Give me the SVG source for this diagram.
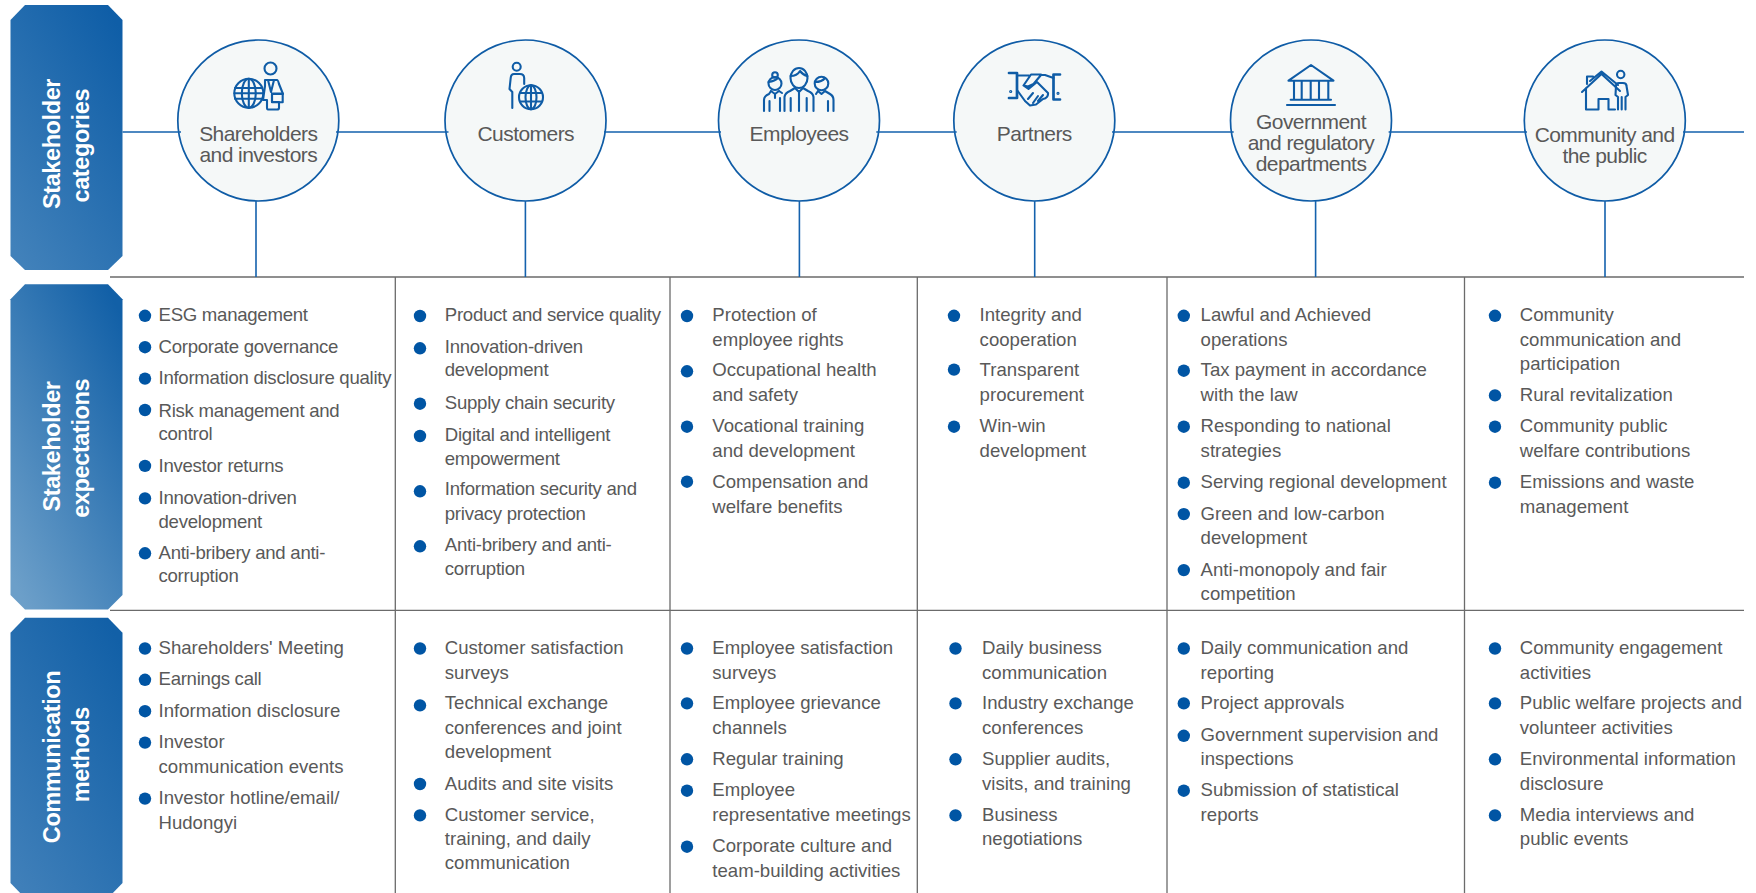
<svg xmlns="http://www.w3.org/2000/svg" width="1756" height="893" viewBox="0 0 1756 893">
<style>
text{font-family:"Liberation Sans",Arial,sans-serif}
.t{font-size:18.6px;fill:#595959}
.s{letter-spacing:-.27px}
.c{font-size:21px;fill:#595959;text-anchor:middle;letter-spacing:-.55px}
.h{font-size:23.5px;font-weight:700;fill:#fff;text-anchor:middle;letter-spacing:-.4px}
.n{fill:#f5f8f8;stroke:#0f5ca6;stroke-width:1.7}
.i{fill:none;stroke:#0f5ca6;stroke-width:2.1;stroke-linejoin:round;stroke-linecap:round}
.k{stroke-width:2.7}
.d{stroke-width:1.2}
.f{fill:#f5f8f8}
.b{fill:#0055a4}
.bl{stroke:#1562ad;stroke-width:1.6;fill:none}
.gr{stroke:#6b6b6b;stroke-width:1.3;fill:none}
</style>
<defs>
<linearGradient id="g1" x1=".85" y1="0" x2=".15" y2="1"><stop offset="0" stop-color="#0f5ea7"/><stop offset="1" stop-color="#4181ba"/></linearGradient>
<linearGradient id="g2" x1=".85" y1="0" x2=".15" y2="1"><stop offset="0" stop-color="#1260a7"/><stop offset="1" stop-color="#6c9fc9"/></linearGradient>
<linearGradient id="g3" x1=".85" y1="0" x2=".15" y2="1"><stop offset="0" stop-color="#1260a7"/><stop offset="1" stop-color="#3f7fb9"/></linearGradient>
</defs>
<rect width="1756" height="893" fill="#fff"/>
<g id="grid">
<path class="gr" d="M110 277H1744M110 610.3H1744M395.3 277V893M670 277V893M917.3 277V893M1167 277V893M1464.5 277V893"/>
</g>
<g id="band-categories">
<path fill="url(#g1)" d="M25 5H108L122.5 20V256L108 270H25L10.5 256V20Z"/>
<text class="h" transform="translate(60 144) rotate(-90)">Stakeholder</text>
<text class="h" transform="translate(89 145.7) rotate(-90)">categories</text>
</g>
<g id="band-expectations">
<path fill="url(#g2)" d="M25 284.3H108L122.5 299.3V595L108 609.5H25L10.5 595V299.3Z"/>
<text class="h" transform="translate(60 446.5) rotate(-90)">Stakeholder</text>
<text class="h" transform="translate(89 448.3) rotate(-90)">expectations</text>
</g>
<g id="band-methods">
<path fill="url(#g3)" d="M25 617.7H108L122.5 632.7V883L108 898H25L10.5 883V632.7Z"/>
<text class="h" transform="translate(60 757) rotate(-90)">Communication</text>
<text class="h" transform="translate(89 754.6) rotate(-90)">methods</text>
</g>
<g id="node-shareholders">
<circle class="n" cx="258.3" cy="120.5" r="80.5"/>
<circle class="i" cx="248.8" cy="93.3" r="14.5"/>
<ellipse class="i" cx="248.8" cy="93.3" rx="7" ry="14.5"/>
<path class="i" d="M248.8 79V108M235 88H262M234.5 93.3H263M235 98.7H262"/>
<path class="i f" d="M265 80H277Q278 80 279 84L283 94H272V102H279V108Q279 109.5 277 109.5H268Q267 109.5 267 107.5V100H263L265 86Z"/>
<circle class="i" cx="270.5" cy="68.5" r="6"/>
<path class="i" d="M268 80L271 92L274 80M272 93.5H282.7V102.3H272Z"/>
<text class="c" x="258.3" y="141">Shareholders</text>
<text class="c" x="258.3" y="162.3">and investors</text>
</g>
<g id="node-customers">
<circle class="n" cx="525.5" cy="120.5" r="80.5"/>
<circle class="i" cx="516.7" cy="66.7" r="4"/>
<path class="i" d="M512.3 108V92L509.5 89L510.7 78Q511 74 514 74H520Q524 74 524.2 78V84"/>
<circle class="i" cx="531" cy="97.3" r="12"/>
<ellipse class="i" cx="531" cy="97.3" rx="5.5" ry="12"/>
<path class="i" d="M531 85.3V109.3M520.5 93H541.5M520.5 101.5H541.5"/>
<text class="c" x="525.8" y="141">Customers</text>
</g>
<g id="node-employees">
<circle class="n" cx="799" cy="120.5" r="80.5"/>
<ellipse class="i" cx="799" cy="78" rx="8.5" ry="10"/>
<path class="i" d="M790.5 76Q797 76 800 71Q803 75 807.5 76M795 88L799 92L803 88M784.5 111V97Q785 93 790 91L795 88M803 88L808 91Q813 93 813.5 97V111M790.7 111V98M799 92V111M806.7 111V98"/>
<circle class="i" cx="775" cy="83.5" r="6.5"/>
<circle class="i" cx="775" cy="75" r="2.8"/>
<path class="i" d="M768.5 82Q775 81 778 78M771 91L775 94L779 91M764 111V100Q764 96 769 94L771 91M779 91L782 93M769.5 111V101M775 94V98M780 98V111"/>
<circle class="i" cx="821.5" cy="83.5" r="6.8"/>
<path class="i" d="M815 82Q822 82 825 78M818 91L821.5 94L825 91M825 91L830 94Q833.5 96 833.5 100V111M828 111V101M816 94L818 91"/>
<text class="c" x="799" y="141">Employees</text>
</g>
<g id="node-partners">
<circle class="n" cx="1034.3" cy="120.5" r="80.5"/>
<path class="i k" d="M1009 73H1017V98H1009M1060 74.5H1053.5V99.5H1060"/>
<circle class="i d" cx="1010.7" cy="91.5" r="1"/>
<circle class="i d" cx="1058" cy="93.3" r="1"/>
<path class="i" d="M1017 75.5H1029M1033.5 84L1041 75H1045L1053.5 78M1033.5 84L1028 86.5L1023.5 85.5M1023.5 85.5L1031 74.5H1041M1023.5 85.5L1028.5 89L1037 82L1048 93Q1048.5 98 1043 99L1036 104.5L1030 105.5L1025 101L1017 90M1028 99L1033 93M1033 103L1038 96M1038 101L1043 95"/>
<text class="c" x="1034.3" y="141">Partners</text>
</g>
<g id="node-government">
<circle class="n" cx="1311" cy="120.5" r="80.5"/>
<path class="i" d="M1288.5 80.7L1311 65L1333.5 80.7ZM1294 80.7V99.5M1301.7 80.7V99.5M1310.7 80.7V99.5M1319 80.7V99.5M1328.3 80.7V99.5M1290.7 99.7H1331M1287 105H1335"/>
<text class="c" x="1311" y="129.3">Government</text>
<text class="c" x="1311" y="150.3">and regulatory</text>
<text class="c" x="1311" y="171.3">departments</text>
</g>
<g id="node-community">
<circle class="n" cx="1604.8" cy="120.5" r="80.5"/>
<path class="i" d="M1582 92L1601.5 74L1620 91M1586 88V109.5H1598.5V99H1608.5V109.5H1615M1587 78V76.5H1593M1587 84V77M1590 81L1601.5 71.5L1618 85"/>
<circle class="i" cx="1620.7" cy="74.5" r="3.7"/>
<path class="i" d="M1618 109.5V97L1615.5 95L1616 86Q1616 83 1619 83H1623Q1626.5 83 1626.5 86L1628 95L1625.5 97V109.5M1621.7 97V109.5"/>
<text class="c" x="1604.6" y="141.7">Community and</text>
<text class="c" x="1604.6" y="162.7">the public</text>
</g>
<g id="connectors">
<path class="bl" d="M122.5 132H181M336 132H448.5M604 132H721M876.3 132H956.7M1112 132H1233.7M1388.6 132H1527M1683 132H1744"/>
<path class="bl" d="M256 201V277M525.4 201V277M799.4 201V277M1034.7 201V277M1315.6 201V277M1605 201V277"/>
</g>
<g id="expectations">
<g id="exp-shareholders">
<circle class="b" cx="145" cy="315.8" r="6.2"/><text class="t s" x="158.5" y="321.4">ESG management</text>
<circle class="b" cx="145" cy="347.2" r="6.2"/><text class="t s" x="158.5" y="352.8">Corporate governance</text>
<circle class="b" cx="145" cy="378.6" r="6.2"/><text class="t s" x="158.5" y="384.2">Information disclosure quality</text>
<circle class="b" cx="145" cy="410" r="6.2"/><text class="t s" x="158.5" y="416.6">Risk management and</text><text class="t s" x="158.5" y="440.2">control</text>
<circle class="b" cx="145" cy="465.9" r="6.2"/><text class="t s" x="158.5" y="471.5">Investor returns</text>
<circle class="b" cx="145" cy="498.4" r="6.2"/><text class="t s" x="158.5" y="504">Innovation-driven</text><text class="t s" x="158.5" y="527.5">development</text>
<circle class="b" cx="145" cy="553.3" r="6.2"/><text class="t s" x="158.5" y="558.9">Anti-bribery and anti-</text><text class="t s" x="158.5" y="582.4">corruption</text>
</g>
<g id="exp-customers">
<circle class="b" cx="420" cy="316" r="6.2"/><text class="t s" x="444.8" y="321.4">Product and service quality</text>
<circle class="b" cx="420" cy="348.3" r="6.2"/><text class="t s" x="444.8" y="352.8">Innovation-driven</text><text class="t s" x="444.8" y="376.3">development</text>
<circle class="b" cx="420" cy="403.7" r="6.2"/><text class="t s" x="444.8" y="408.8">Supply chain security</text>
<circle class="b" cx="420" cy="436" r="6.2"/><text class="t s" x="444.8" y="441.3">Digital and intelligent</text><text class="t s" x="444.8" y="464.8">empowerment</text>
<circle class="b" cx="420" cy="491.3" r="6.2"/><text class="t s" x="444.8" y="495">Information security and</text><text class="t s" x="444.8" y="519.7">privacy protection</text>
<circle class="b" cx="420" cy="546.3" r="6.2"/><text class="t s" x="444.8" y="551">Anti-bribery and anti-</text><text class="t s" x="444.8" y="574.6">corruption</text>
</g>
<g id="exp-employees">
<circle class="b" cx="687" cy="316" r="6.2"/><text class="t" x="712.3" y="321.4">Protection of</text><text class="t" x="712.3" y="346.1">employee rights</text>
<circle class="b" cx="687" cy="371.3" r="6.2"/><text class="t" x="712.3" y="376.3">Occupational health</text><text class="t" x="712.3" y="401">and safety</text>
<circle class="b" cx="687" cy="426.7" r="6.2"/><text class="t" x="712.3" y="432.3">Vocational training</text><text class="t" x="712.3" y="457">and development</text>
<circle class="b" cx="687" cy="481.7" r="6.2"/><text class="t" x="712.3" y="488.3">Compensation and</text><text class="t" x="712.3" y="513">welfare benefits</text>
</g>
<g id="exp-partners">
<circle class="b" cx="954" cy="315.8" r="6.2"/><text class="t" x="979.6" y="321.4">Integrity and</text><text class="t" x="979.6" y="346.1">cooperation</text>
<circle class="b" cx="954" cy="369.6" r="6.2"/><text class="t" x="979.6" y="376.3">Transparent</text><text class="t" x="979.6" y="401">procurement</text>
<circle class="b" cx="954" cy="426.7" r="6.2"/><text class="t" x="979.6" y="432.3">Win-win</text><text class="t" x="979.6" y="457">development</text>
</g>
<g id="exp-government">
<circle class="b" cx="1183.8" cy="315.8" r="6.2"/><text class="t" x="1200.6" y="321.4">Lawful and Achieved</text><text class="t" x="1200.6" y="346.1">operations</text>
<circle class="b" cx="1183.8" cy="370.7" r="6.2"/><text class="t" x="1200.6" y="376.3">Tax payment in accordance</text><text class="t" x="1200.6" y="401">with the law</text>
<circle class="b" cx="1183.8" cy="426.7" r="6.2"/><text class="t" x="1200.6" y="432.3">Responding to national</text><text class="t" x="1200.6" y="457">strategies</text>
<circle class="b" cx="1183.8" cy="482.7" r="6.2"/><text class="t" x="1200.6" y="488.3">Serving regional development</text>
<circle class="b" cx="1183.8" cy="514.1" r="6.2"/><text class="t" x="1200.6" y="519.7">Green and low-carbon</text><text class="t" x="1200.6" y="544.3">development</text>
<circle class="b" cx="1183.8" cy="570.1" r="6.2"/><text class="t" x="1200.6" y="575.7">Anti-monopoly and fair</text><text class="t" x="1200.6" y="600.3">competition</text>
</g>
<g id="exp-community">
<circle class="b" cx="1495" cy="315.8" r="6.2"/><text class="t" x="1519.8" y="321.4">Community</text><text class="t" x="1519.8" y="346.1">communication and</text><text class="t" x="1519.8" y="369.6">participation</text>
<circle class="b" cx="1495" cy="395.4" r="6.2"/><text class="t" x="1519.8" y="401">Rural revitalization</text>
<circle class="b" cx="1495" cy="426.7" r="6.2"/><text class="t" x="1519.8" y="432.3">Community public</text><text class="t" x="1519.8" y="457">welfare contributions</text>
<circle class="b" cx="1495" cy="482.7" r="6.2"/><text class="t" x="1519.8" y="488.3">Emissions and waste</text><text class="t" x="1519.8" y="513">management</text>
</g>
</g>
<g id="methods">
<g id="met-shareholders">
<circle class="b" cx="145" cy="648.5" r="6.2"/><text class="t" x="158.5" y="654.1">Shareholders' Meeting</text>
<circle class="b" cx="145" cy="679.8" r="6.2"/><text class="t s" x="158.5" y="685.4">Earnings call</text>
<circle class="b" cx="145" cy="711.2" r="6.2"/><text class="t" x="158.5" y="716.8">Information disclosure</text>
<circle class="b" cx="145" cy="742.6" r="6.2"/><text class="t" x="158.5" y="748.2">Investor</text><text class="t" x="158.5" y="772.8">communication events</text>
<circle class="b" cx="145" cy="798.6" r="6.2"/><text class="t" x="158.5" y="804.2">Investor hotline/email/</text><text class="t" x="158.5" y="828.8">Hudongyi</text>
</g>
<g id="met-customers">
<circle class="b" cx="420" cy="648.5" r="6.2"/><text class="t" x="444.8" y="654.1">Customer satisfaction</text><text class="t" x="444.8" y="678.7">surveys</text>
<circle class="b" cx="420" cy="705.4" r="6.2"/><text class="t" x="444.8" y="709">Technical exchange</text><text class="t" x="444.8" y="733.6">conferences and joint</text><text class="t" x="444.8" y="758.2">development</text>
<circle class="b" cx="420" cy="784" r="6.2"/><text class="t" x="444.8" y="789.6">Audits and site visits</text>
<circle class="b" cx="420" cy="815.4" r="6.2"/><text class="t" x="444.8" y="821">Customer service,</text><text class="t" x="444.8" y="844.5">training, and daily</text><text class="t" x="444.8" y="869.1">communication</text>
</g>
<g id="met-employees">
<circle class="b" cx="687" cy="648.5" r="6.2"/><text class="t" x="712.3" y="654.1">Employee satisfaction</text><text class="t" x="712.3" y="678.7">surveys</text>
<circle class="b" cx="687" cy="703.4" r="6.2"/><text class="t" x="712.3" y="709">Employee grievance</text><text class="t" x="712.3" y="733.6">channels</text>
<circle class="b" cx="687" cy="759.3" r="6.2"/><text class="t" x="712.3" y="764.9">Regular training</text>
<circle class="b" cx="687" cy="790.7" r="6.2"/><text class="t" x="712.3" y="796.3">Employee</text><text class="t" x="712.3" y="821">representative meetings</text>
<circle class="b" cx="687" cy="846.7" r="6.2"/><text class="t" x="712.3" y="852.3">Corporate culture and</text><text class="t" x="712.3" y="876.9">team-building activities</text>
</g>
<g id="met-partners">
<circle class="b" cx="955.5" cy="648.5" r="6.2"/><text class="t" x="982" y="654.1">Daily business</text><text class="t" x="982" y="678.7">communication</text>
<circle class="b" cx="955.5" cy="703.4" r="6.2"/><text class="t" x="982" y="709">Industry exchange</text><text class="t" x="982" y="733.6">conferences</text>
<circle class="b" cx="955.5" cy="759.3" r="6.2"/><text class="t" x="982" y="764.9">Supplier audits,</text><text class="t" x="982" y="789.6">visits, and training</text>
<circle class="b" cx="955.5" cy="815.4" r="6.2"/><text class="t" x="982" y="821">Business</text><text class="t" x="982" y="844.5">negotiations</text>
</g>
<g id="met-government">
<circle class="b" cx="1183.8" cy="648.5" r="6.2"/><text class="t" x="1200.6" y="654.1">Daily communication and</text><text class="t" x="1200.6" y="678.7">reporting</text>
<circle class="b" cx="1183.8" cy="703.4" r="6.2"/><text class="t" x="1200.6" y="709">Project approvals</text>
<circle class="b" cx="1183.8" cy="735.8" r="6.2"/><text class="t" x="1200.6" y="741.4">Government supervision and</text><text class="t" x="1200.6" y="764.9">inspections</text>
<circle class="b" cx="1183.8" cy="790.7" r="6.2"/><text class="t" x="1200.6" y="796.3">Submission of statistical</text><text class="t" x="1200.6" y="821">reports</text>
</g>
<g id="met-community">
<circle class="b" cx="1495" cy="648.5" r="6.2"/><text class="t" x="1519.8" y="654.1">Community engagement</text><text class="t" x="1519.8" y="678.7">activities</text>
<circle class="b" cx="1495" cy="703.4" r="6.2"/><text class="t" x="1519.8" y="709">Public welfare projects and</text><text class="t" x="1519.8" y="733.6">volunteer activities</text>
<circle class="b" cx="1495" cy="759.3" r="6.2"/><text class="t" x="1519.8" y="764.9">Environmental information</text><text class="t" x="1519.8" y="789.6">disclosure</text>
<circle class="b" cx="1495" cy="815.4" r="6.2"/><text class="t" x="1519.8" y="821">Media interviews and</text><text class="t" x="1519.8" y="844.5">public events</text>
</g>
</g>
</svg>
